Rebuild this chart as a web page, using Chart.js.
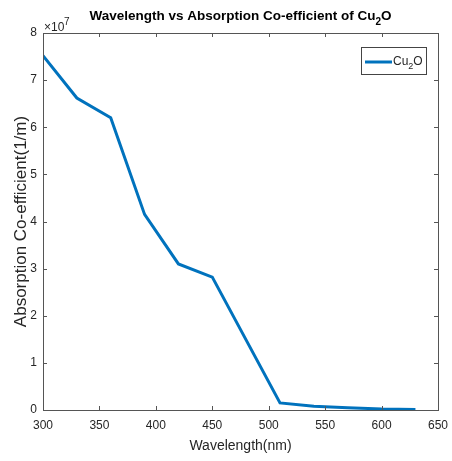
<!DOCTYPE html>
<html>
<head>
<meta charset="utf-8">
<script src="https://cdn.jsdelivr.net/npm/chart.js@4.4.1/dist/chart.umd.min.js"></script>
<style>
  html, body { margin: 0; padding: 0; background: #fff; }
  #wrap { width: 452px; height: 461px; }
</style>
</head>
<body>
<div id="wrap"><canvas id="grafico" width="452" height="461"></canvas></div>
<script>
// datos
const longitudes = [300, 330, 360, 390, 420, 450, 510, 540, 570, 600, 630];
const coeficientes = [7.52e7, 6.62e7, 6.2e7, 4.15e7, 3.1e7, 2.82e7, 0.15e7, 0.08e7, 0.05e7, 0.02e7, 0.01e7];
const xTicks = [300, 350, 400, 450, 500, 550, 600, 650];
const yTicks = [0, 1, 2, 3, 4, 5, 6, 7, 8];
const etiquetaSerie = 'Cu\u2082O';
const tituloPartes = ['Wavelength vs Absorption Co-efficient of Cu', '2', 'O'];

const azul = '#0072BD';
const gris = '#555555';
const texto = '#262626';
const fuente = '"Liberation Sans", Arial, sans-serif';

// dibuja "Cu" + subindice "2" + "O"
function textoConSub(ctx, partes, x, y, tam, peso, baja) {
  ctx.font = peso + ' ' + tam + 'px ' + fuente;
  ctx.fillText(partes[0], x, y);
  x += ctx.measureText(partes[0]).width;
  ctx.font = peso + ' ' + Math.round(tam * 0.72) + 'px ' + fuente;
  ctx.fillText(partes[1], x, y + baja);
  x += ctx.measureText(partes[1]).width;
  ctx.font = peso + ' ' + tam + 'px ' + fuente;
  ctx.fillText(partes[2], x, y);
}
function anchoConSub(ctx, partes, tam, peso) {
  ctx.font = peso + ' ' + tam + 'px ' + fuente;
  let w = ctx.measureText(partes[0]).width + ctx.measureText(partes[2]).width;
  ctx.font = peso + ' ' + Math.round(tam * 0.72) + 'px ' + fuente;
  return w + ctx.measureText(partes[1]).width;
}

// caja estilo matlab, ticks hacia dentro, titulo, x10^7 y leyenda
const cajaMatlab = {
  id: 'cajaMatlab',
  afterDatasetsDraw(chart) {
    const { ctx, chartArea: a, scales } = chart;
    ctx.save();
    ctx.strokeStyle = gris;
    ctx.lineWidth = 1;
    ctx.strokeRect(a.left + 0.5, a.top + 0.5, a.right - a.left, a.bottom - a.top);
    ctx.beginPath();
    xTicks.forEach(v => {
      const px = Math.round(scales.x.getPixelForValue(v)) + 0.5;
      ctx.moveTo(px, a.bottom); ctx.lineTo(px, a.bottom - 4);
      ctx.moveTo(px, a.top); ctx.lineTo(px, a.top + 4);
    });
    yTicks.forEach(v => {
      const py = Math.round(scales.y.getPixelForValue(v * 1e7)) + 0.5;
      ctx.moveTo(a.left, py); ctx.lineTo(a.left + 4, py);
      ctx.moveTo(a.right, py); ctx.lineTo(a.right - 4, py);
    });
    ctx.stroke();

    // titulo
    ctx.fillStyle = '#000';
    ctx.textBaseline = 'alphabetic';
    ctx.textAlign = 'left';
    const wt = anchoConSub(ctx, tituloPartes, 13.5, 'bold');
    textoConSub(ctx, tituloPartes, (a.left + a.right) / 2 - wt / 2, 20, 13.5, 'bold', 5);

    // x10^7
    ctx.fillStyle = texto;
    ctx.font = '12px ' + fuente;
    ctx.fillText('\u00d710', a.left + 1, 31);
    ctx.font = '10px ' + fuente;
    ctx.fillText('7', a.left + 21, 25);

    // leyenda
    const lx = 361, ly = 47, lw = 65, lh = 27;
    ctx.fillStyle = '#fff';
    ctx.fillRect(lx, ly, lw, lh);
    ctx.strokeStyle = '#444';
    ctx.lineWidth = 1;
    ctx.strokeRect(lx + 0.5, ly + 0.5, lw, lh);
    ctx.strokeStyle = azul;
    ctx.lineWidth = 3;
    ctx.beginPath();
    ctx.moveTo(lx + 4, ly + 15); ctx.lineTo(lx + 31, ly + 15);
    ctx.stroke();
    ctx.fillStyle = texto;
    textoConSub(ctx, ['Cu', '2', 'O'], lx + 32, ly + 18, 12, 'normal', 4);
    ctx.restore();
  }
};

const ctx = document.getElementById('grafico');
new Chart(ctx, {
  type: 'line',
  data: {
    datasets: [{
      label: etiquetaSerie,
      data: longitudes.map((x, i) => ({ x: x, y: coeficientes[i] })),
      borderColor: azul,
      borderWidth: 3,
      pointRadius: 0,
      tension: 0,
      fill: false
    }]
  },
  options: {
    responsive: false,
    animation: false,
    devicePixelRatio: 1,
    layout: { padding: { left: 0, right: 14, top: 33, bottom: 0 } },
    plugins: {
      legend: { display: false },
      tooltip: { enabled: false },
      title: { display: false }
    },
    scales: {
      x: {
        type: 'linear',
        min: 300, max: 650,
        afterBuildTicks: s => { s.ticks = xTicks.map(v => ({ value: v })); },
        afterFit: s => { s.height = 51; s.paddingRight = 0; s.paddingLeft = 0; },
        grid: { display: false, drawTicks: false },
        border: { display: false },
        ticks: {
          color: texto,
          padding: 8,
          maxRotation: 0,
          font: { family: fuente, size: 12 }
        },
        title: {
          display: true,
          text: 'Wavelength(nm)',
          color: texto,
          padding: { top: 0, bottom: 6 },
          font: { family: fuente, size: 14 }
        }
      },
      y: {
        type: 'linear',
        min: 0, max: 8e7,
        afterBuildTicks: s => { s.ticks = yTicks.map(v => ({ value: v * 1e7 })); },
        afterFit: s => { s.width = 43; },
        grid: { display: false, drawTicks: false },
        border: { display: false },
        ticks: {
          color: texto,
          padding: 6,
          callback: v => v / 1e7,
          font: { family: fuente, size: 12 }
        },
        title: {
          display: true,
          text: 'Absorption Co-efficient(1/m)',
          color: texto,
          padding: { top: 11, bottom: 0 },
          font: { family: fuente, size: 17 }
        }
      }
    }
  },
  plugins: [cajaMatlab]
});
</script>
</body>
</html>
